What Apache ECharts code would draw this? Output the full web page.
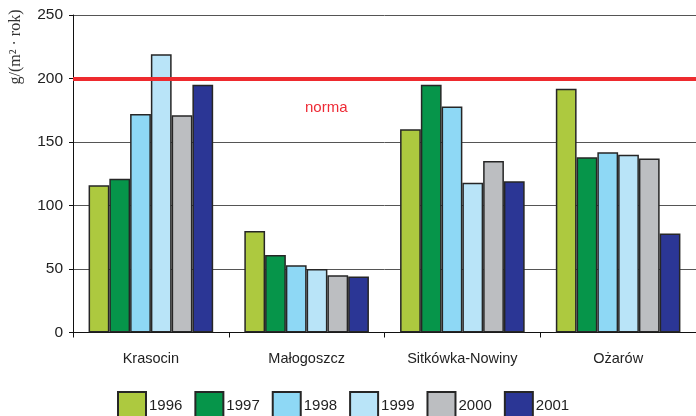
<!DOCTYPE html>
<html>
<head>
<meta charset="utf-8">
<script src="https://cdn.jsdelivr.net/npm/echarts@6/dist/echarts.min.js"></script>
<style>
  html, body { margin: 0; padding: 0; background: #fff; }
  #chart { width: 696px; height: 416px; }
</style>
</head>
<body>
<div id="chart"></div>
<script>
// Annual dust fall, g/(m² · rok), per measuring site
const sites = ['Krasocin', 'Małogoszcz', 'Sitkówka-Nowiny', 'Ożarów'];
const years = ['1996', '1997', '1998', '1999', '2000', '2001'];
const yearColors = ['#adc93f', '#06954a', '#8ed8f5', '#b9e4f8', '#bcbec1', '#2b3695'];

const v1996 = [116, 80, 160, 192];
const v1997 = [121, 61, 195, 138];
const v1998 = [172, 53, 178, 142];
const v1999 = [219, 50, 118, 140];
const v2000 = [171, 45, 135, 137];
const v2001 = [195, 44, 119, 78];
const yearValues = [v1996, v1997, v1998, v1999, v2000, v2001];

const normValue = 200;
const normLabel = 'norma';
const yTicks = [0, 50, 100, 150, 200, 250];
const unitLabel = 'g/(m² · rok)';

const sans = '"Liberation Sans", Arial, Helvetica, sans-serif';

const series = years.map((y, i) => {
  const s = {
    name: y,
    type: 'bar',
    data: yearValues[i],
    barGap: 0,
    barCategoryGap: '20%',
    itemStyle: { color: yearColors[i], borderColor: '#262626', borderWidth: 1.5 },
    emphasis: { disabled: true }
  };
  if (i === years.length - 1) {
    s.markLine = {
      silent: true,
      symbol: 'none',
      label: { show: false },
      lineStyle: { color: '#ee2a2e', width: 4, type: 'solid' },
      data: [{ yAxis: normValue }],
      z: 10
    };
  }
  return s;
});

const chart = echarts.init(document.getElementById('chart'), null, { renderer: 'canvas' });
chart.setOption({
  animation: false,
  grid: { left: 73, top: 15, width: 628, height: 317.5, containLabel: false },
  xAxis: {
    type: 'category',
    data: sites,
    axisLine: { lineStyle: { color: '#111', width: 1 } },
    axisTick: { show: true, length: 5, lineStyle: { color: '#111' } },
    axisLabel: { interval: 0, color: '#222', fontFamily: sans, fontSize: 14.5, margin: 19 }
  },
  yAxis: {
    type: 'value',
    min: yTicks[0],
    max: yTicks[yTicks.length - 1],
    interval: yTicks[1] - yTicks[0],
    axisLine: { show: true, lineStyle: { color: '#111', width: 1 } },
    axisTick: { show: true, length: 4, lineStyle: { color: '#111' } },
    axisLabel: { color: '#222', fontFamily: sans, fontSize: 15.5, margin: 10 },
    splitLine: { show: true, lineStyle: { color: '#555', width: 1 } }
  },
  legend: {
    data: years,
    icon: 'rect',
    left: 117,
    top: 391,
    padding: 0,
    itemWidth: 28,
    itemHeight: 28,
    itemGap: 12,
    selectedMode: false,
    textStyle: { color: '#222', fontFamily: sans, fontSize: 15, padding: [10, 0, 0, -2] }
  },
  graphic: [
    {
      type: 'text',
      x: 16, y: 47,
      rotation: Math.PI / 2,
      style: {
        text: unitLabel,
        fill: '#333',
        font: '16px "Liberation Serif", "Times New Roman", serif',
        align: 'center',
        verticalAlign: 'middle'
      }
    },
    {
      type: 'text',
      x: 305, y: 108,
      style: {
        text: normLabel,
        fill: '#ee2a35',
        font: '15px ' + sans,
        align: 'left',
        verticalAlign: 'middle'
      }
    }
  ],
  series: series
});
</script>
</body>
</html>
